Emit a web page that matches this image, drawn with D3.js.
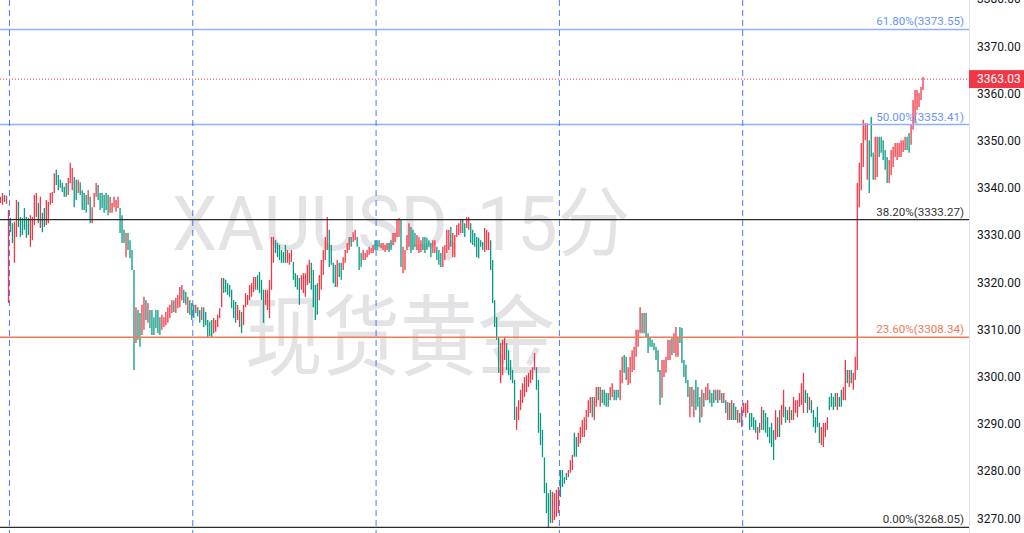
<!DOCTYPE html>
<html><head><meta charset="utf-8">
<script src="https://cdn.jsdelivr.net/npm/d3@7"></script>
<style>html,body{margin:0;padding:0;background:#fff;overflow:hidden}</style>
</head><body><svg id="c" width="1024" height="533"></svg>
<script>
// ---- data (XAUUSD 15m OHLC bars: high / low / direction, r = up (red), g = down (green)) ----
const highs = [
3338.1,3338.9,3338.5,3338.3,3335.3,3333.6,3332.5,3332.8,3337.4,3337.0,
3333.8,3333.6,3335.7,3333.8,3333.6,3334.2,3333.8,3338.5,3338.9,3336.8,
3338.1,3334.7,3335.7,3337.4,3337.0,3338.9,3339.1,3343.1,3343.8,3342.7,
3341.7,3341.0,3340.2,3341.0,3342.1,3345.3,3344.2,3342.3,3341.7,3341.7,
3341.2,3339.5,3338.9,3338.5,3339.5,3338.1,3335.9,3338.9,3341.0,3340.6,
3338.9,3338.9,3338.5,3338.9,3338.5,3338.1,3336.8,3338.1,3337.4,3338.1,
3335.7,3334.2,3331.1,3330.4,3330.4,3328.9,3326.8,3322.6,3314.7,3314.1,
3313.5,3315.2,3316.9,3316.2,3315.6,3314.1,3314.1,3312.6,3314.1,3314.1,
3312.6,3313.1,3312.6,3313.7,3314.7,3315.2,3316.2,3316.2,3316.7,3317.3,
3319.0,3319.4,3318.4,3317.9,3316.9,3316.2,3315.6,3315.2,3315.2,3314.7,
3314.1,3314.7,3314.7,3313.7,3312.0,3311.6,3312.0,3312.4,3312.0,3313.1,
3314.5,3320.9,3320.9,3320.5,3319.8,3319.4,3318.4,3316.2,3315.8,3315.2,
3314.1,3313.7,3315.2,3317.7,3317.3,3319.4,3319.8,3321.1,3321.1,3321.5,
3322.2,3320.5,3318.4,3318.4,3318.4,3320.5,3329.6,3329.6,3328.9,3328.3,
3327.9,3326.8,3326.4,3327.9,3326.8,3326.2,3326.8,3324.3,3321.9,3321.5,
3320.9,3321.5,3321.9,3321.9,3323.7,3324.7,3324.1,3322.6,3319.4,3319.8,
3321.5,3324.7,3326.8,3329.6,3333.8,3331.1,3327.9,3324.1,3323.7,3324.7,
3324.1,3324.1,3325.3,3326.8,3328.3,3329.6,3329.6,3330.6,3331.1,3329.6,
3327.5,3326.2,3326.8,3326.2,3326.8,3327.5,3327.2,3327.9,3328.9,3328.9,
3328.9,3328.3,3328.3,3327.9,3328.3,3328.3,3328.9,3330.4,3330.4,3333.2,
3333.6,3333.2,3327.5,3326.8,3330.0,3332.5,3331.7,3331.1,3330.4,3330.0,
3329.6,3328.9,3329.6,3329.6,3329.4,3328.9,3328.3,3328.9,3328.9,3327.5,
3326.8,3326.2,3327.5,3327.9,3331.1,3331.1,3331.7,3330.4,3330.0,3332.1,
3332.5,3333.2,3333.2,3332.5,3333.8,3333.8,3332.5,3331.1,3330.4,3329.6,
3329.4,3328.9,3328.5,3331.5,3331.1,3330.6,3328.9,3324.7,3316.2,3312.6,
3308.4,3307.1,3307.8,3308.4,3307.1,3305.6,3303.5,3301.4,3299.3,3293.6,
3295.0,3297.2,3298.6,3299.9,3300.3,3300.8,3301.4,3302.0,3305.0,3302.0,
3299.3,3292.3,3288.7,3282.9,3277.5,3275.3,3276.0,3275.6,3275.3,3276.0,
3276.6,3280.2,3280.2,3278.7,3279.6,3280.2,3282.3,3283.4,3288.1,3287.2,
3288.1,3289.3,3290.8,3291.4,3292.9,3295.0,3295.7,3295.7,3295.7,3297.8,
3297.8,3297.8,3297.2,3297.2,3296.5,3296.5,3297.8,3298.6,3297.2,3297.2,
3297.2,3301.4,3304.2,3304.6,3304.2,3302.0,3304.2,3305.6,3306.3,3309.9,
3309.9,3314.7,3313.5,3313.5,3313.5,3309.2,3308.4,3307.8,3307.1,3306.3,
3305.6,3301.4,3303.5,3303.5,3304.2,3307.8,3307.8,3308.2,3309.2,3310.5,
3308.2,3310.5,3310.3,3303.5,3302.5,3299.3,3297.8,3297.8,3297.2,3299.3,
3297.8,3295.7,3297.2,3296.5,3297.8,3298.6,3297.2,3296.5,3297.2,3297.2,
3297.2,3297.2,3296.5,3296.5,3295.0,3294.6,3294.4,3295.0,3294.4,3293.6,
3292.9,3292.3,3293.6,3294.4,3294.4,3295.0,3292.3,3292.3,3291.4,3290.8,
3289.3,3290.2,3293.6,3292.9,3292.3,3291.4,3289.3,3290.2,3288.7,3292.9,
3291.4,3292.9,3294.0,3297.2,3293.6,3292.9,3293.6,3292.9,3295.7,3295.0,
3295.0,3296.5,3298.6,3300.8,3297.2,3296.5,3295.7,3295.0,3292.9,3291.4,
3293.6,3290.2,3289.3,3290.2,3290.2,3291.4,3295.7,3296.5,3295.7,3296.5,
3296.5,3295.7,3297.2,3297.8,3303.5,3301.4,3301.4,3301.4,3300.8,3304.2,
3341.0,3345.3,3349.5,3354.4,3353.7,3353.7,3350.1,3355.0,3347.4,3350.8,
3350.8,3350.8,3350.8,3350.1,3348.0,3346.5,3345.9,3348.0,3348.7,3349.5,
3349.5,3349.5,3350.1,3350.1,3350.8,3350.8,3351.6,3353.3,3358.6,3360.7,
3360.7,3360.1,3361.4,3363.5
];
const lows = [
3336.8,3336.4,3337.0,3336.6,3315.6,3330.6,3328.3,3324.1,3329.6,3331.7,
3329.6,3330.0,3331.1,3329.4,3330.0,3327.5,3328.9,3332.1,3333.8,3332.5,
3331.5,3330.6,3331.7,3332.1,3332.5,3336.4,3336.8,3338.9,3340.6,3339.5,
3340.0,3339.1,3338.1,3338.1,3338.5,3341.0,3339.5,3335.9,3337.4,3338.9,
3338.5,3335.3,3335.3,3334.7,3336.4,3332.5,3332.5,3335.9,3338.1,3337.4,
3335.3,3335.7,3334.7,3335.3,3334.2,3334.7,3334.7,3335.9,3334.9,3335.7,
3330.4,3328.3,3328.3,3325.3,3326.8,3325.1,3322.6,3301.4,3307.1,3307.8,
3306.3,3308.8,3309.9,3312.0,3311.4,3310.3,3308.8,3308.8,3310.3,3309.2,
3308.8,3309.9,3310.5,3310.9,3311.4,3312.4,3313.5,3313.7,3313.5,3314.5,
3314.7,3316.2,3315.6,3315.2,3313.5,3313.1,3312.0,3312.4,3313.5,3312.8,
3311.4,3312.0,3310.5,3310.9,3308.2,3308.6,3308.2,3309.2,3309.5,3310.5,
3312.4,3314.7,3317.7,3317.9,3317.3,3316.9,3314.5,3312.4,3311.4,3312.0,
3310.5,3309.2,3310.9,3314.7,3315.2,3316.2,3316.9,3317.9,3318.4,3318.4,
3317.7,3316.2,3311.4,3315.2,3314.1,3312.4,3318.4,3324.1,3326.2,3325.3,
3324.7,3324.1,3324.1,3324.1,3324.1,3323.7,3324.3,3320.5,3319.0,3318.4,
3315.2,3318.4,3317.7,3316.9,3319.4,3319.8,3318.4,3314.7,3312.0,3313.1,
3316.2,3318.4,3321.5,3324.7,3326.8,3323.2,3323.7,3319.8,3319.0,3319.0,
3321.1,3320.5,3322.6,3324.1,3326.2,3326.8,3327.5,3328.5,3328.9,3327.5,
3322.6,3323.2,3324.7,3324.7,3325.3,3325.8,3326.2,3326.2,3326.8,3326.8,
3327.5,3327.2,3326.8,3326.4,3326.8,3326.4,3326.8,3327.9,3328.5,3329.6,
3329.6,3323.2,3321.9,3322.6,3326.8,3327.5,3326.2,3326.8,3327.5,3326.8,
3326.2,3326.4,3326.8,3326.2,3326.8,3327.5,3325.3,3326.2,3326.2,3324.7,
3323.7,3323.2,3323.2,3324.7,3326.2,3326.8,3327.5,3325.3,3325.3,3329.6,
3330.0,3330.4,3330.4,3329.6,3331.5,3331.1,3328.3,3327.9,3327.5,3325.3,
3325.1,3327.5,3326.8,3326.4,3326.8,3326.8,3322.6,3315.6,3310.5,3307.8,
3300.8,3298.6,3300.3,3303.5,3301.4,3300.3,3299.3,3298.6,3290.8,3288.7,
3290.8,3292.9,3294.4,3295.7,3296.7,3297.8,3298.6,3299.3,3301.4,3297.2,
3288.1,3285.5,3282.9,3275.3,3271.1,3268.1,3269.0,3269.0,3269.6,3270.3,
3271.1,3274.5,3276.6,3277.3,3278.1,3278.7,3279.6,3280.2,3283.0,3283.0,
3285.1,3285.9,3287.2,3287.2,3288.7,3291.4,3292.3,3291.4,3290.8,3293.6,
3295.0,3293.6,3294.4,3294.0,3293.6,3293.6,3295.0,3295.7,3295.0,3295.0,
3295.5,3295.0,3298.6,3300.8,3299.3,3298.2,3298.6,3301.0,3301.4,3304.2,
3306.3,3309.2,3309.2,3309.2,3308.4,3305.0,3306.3,3306.3,3305.6,3303.5,
3301.0,3294.0,3295.5,3299.9,3300.8,3303.5,3303.5,3304.6,3305.0,3304.2,
3304.2,3307.1,3302.9,3299.9,3298.6,3295.7,3291.4,3293.6,3291.4,3292.9,
3293.6,3290.2,3291.4,3293.6,3295.0,3295.0,3294.4,3293.6,3294.4,3295.0,
3294.4,3295.0,3294.4,3294.4,3292.3,3290.8,3290.8,3290.8,3290.8,3290.8,
3290.2,3290.2,3289.3,3292.3,3291.4,3292.3,3288.7,3289.3,3288.7,3288.1,
3286.6,3288.1,3288.7,3288.7,3288.1,3287.2,3285.9,3285.1,3282.3,3286.6,
3287.2,3287.2,3289.8,3291.4,3290.2,3290.8,3290.2,3290.8,3290.8,3292.3,
3291.4,3293.6,3294.0,3292.3,3294.4,3292.3,3292.9,3292.3,3289.3,3288.1,
3289.3,3285.9,3285.5,3285.1,3287.2,3288.7,3292.9,3293.6,3292.9,3293.6,
3292.9,3293.6,3293.6,3295.0,3295.0,3298.6,3297.8,3298.6,3297.2,3299.3,
3301.4,3335.9,3339.5,3344.4,3350.1,3341.7,3338.9,3346.5,3341.7,3341.7,
3342.3,3346.5,3347.4,3345.9,3343.8,3341.0,3341.0,3342.7,3344.4,3346.5,
3345.9,3346.5,3346.5,3347.6,3348.0,3348.0,3347.4,3349.1,3352.3,3353.7,
3356.5,3357.1,3358.6,3360.7
];
const barDirs = (
"rrgrrggrrg"+"gggggrrrrg"+"rggrrrrrgg"+"ggggrrrggr"+"ggggrgrrrg"+
"gggggrrrrr"+"gggrggggrg"+"grrgrggggg"+"grrrrrrgrr"+"rrggrgggrg"+
"grgggggrrr"+"rrgggggggr"+"rgrrrrrrrg"+"gggrrrrrgg"+"ggggrrrggg"+
"grrrrrgggg"+"rrrrrggggr"+"ggrrrrgrrg"+"ggrrrrrrgg"+"grrrrggrrr"+
"rgrrrrgggr"+"rrgggggrrg"+"ggrrrrgrrr"+"rrggrrgggg"+"gggrrrgggg"+
"grrrgggggr"+"rrrrrrrrrg"+"gggggggrrr"+"rggggrrrgg"+"rrrrrrrgrr"+
"grggggrrgg"+"grrggrrrrr"+"rrgrgggggg"+"ggrrrrrgrr"+"rgggggrgrg"+
"ggrgrrgggr"+"grgrgrgrgg"+"rgrrrrgggg"+"rgrggggggr"+"rgrrggrgrr"+
"rrrrggrggg"+"ggrrrrgggg"+"rggrrgrgrr"+"rrrrrrgggr"+"rgggggrrrr"+
"rrrrrggrrr"+"rrrr").split("");
const lastPrice = 3363.03;
const sessionStarts = [5, 97, 189, 281, 373];
const fibNames  = ["0.00%", "23.60%", "38.20%", "50.00%", "61.80%"];
const fibPrices = [3268.05, 3308.34, 3333.27, 3353.41, 3373.55];
const fibColors = ["#2b2b2b", "#f47a55", "#2b2b2b", "#8fb0ff", "#8fb0ff"];
const fibTextColors = ["#333333", "#f07a56", "#333333", "#6a93f2", "#6a93f2"];
const priceTicks = [3270,3280,3290,3300,3310,3320,3330,3340,3350,3360,3370,3380];
const watermarkLines = ["XAUUSD, 15分", "现货黄金"];

// ---- layout ----
const W = 1024, H = 533, plotRight = 969;
const barStep = 1.9925;
const N = highs.length;
const svg = d3.select("#c");
const x = d3.scaleLinear().domain([0, N - 1]).range([0.5, 0.5 + (N - 1) * barStep]);
const y = d3.scaleLinear().domain([3266.864, 3379.788]).range([H, 0]);
const UP = "#f23645", DOWN = "#089981";

svg.append("rect").attr("width", W).attr("height", H).attr("fill", "#fff");

// watermark
const wm = svg.append("g").attr("fill", "#e3e3e6")
  .style("font-family", "Roboto, 'Noto Sans CJK SC', sans-serif");
wm.append("text").attr("x", 401).attr("y", 250).attr("text-anchor", "middle")
  .attr("font-size", 76).attr("textLength", 458).attr("lengthAdjust", "spacingAndGlyphs")
  .text(watermarkLines[0]);
wm.append("text").attr("x", 400).attr("y", 368).attr("text-anchor", "middle")
  .style("font-family", "'Noto Sans CJK SC', sans-serif")
  .attr("font-size", 88).attr("textLength", 310).attr("lengthAdjust", "spacingAndGlyphs")
  .text(watermarkLines[1]);

// bars
const bars = d3.range(N);
svg.append("g").selectAll("line").data(bars).join("line")
  .attr("x1", i => x(i)).attr("x2", i => x(i))
  .attr("y1", i => y(highs[i]))
  .attr("y2", i => Math.max(y(lows[i]), y(highs[i]) + 1))
  .attr("stroke", i => barDirs[i] === "r" ? UP : DOWN)
  .attr("stroke-width", 1.3);

// fib levels
const fg = svg.append("g");
fibPrices.forEach((p, k) => {
  fg.append("line").attr("x1", 0).attr("x2", plotRight)
    .attr("y1", y(p)).attr("y2", y(p))
    .attr("stroke", fibColors[k]).attr("stroke-width", k >= 3 ? 1.5 : 1.3);
  fg.append("text").attr("x", 964).attr("y", y(p) - 4)
    .attr("text-anchor", "end").attr("fill", fibTextColors[k])
    .style("font-family", "Roboto, sans-serif").attr("font-size", 11.6)
    .text(`${fibNames[k]}(${p.toFixed(2)})`);
});

// session breaks
svg.append("g").selectAll("line").data(sessionStarts).join("line")
  .attr("x1", i => x(i) - barStep / 2).attr("x2", i => x(i) - barStep / 2)
  .attr("y1", 0).attr("y2", H)
  .attr("stroke", "#2962ff").attr("stroke-opacity", 0.85)
  .attr("stroke-width", 1).attr("stroke-dasharray", "6,4");

// last price line
svg.append("line").attr("x1", 0).attr("x2", plotRight)
  .attr("y1", y(lastPrice)).attr("y2", y(lastPrice))
  .attr("stroke", UP).attr("stroke-width", 1).attr("stroke-dasharray", "1,2");

// price axis
svg.append("rect").attr("x", plotRight).attr("y", 0).attr("width", W - plotRight).attr("height", H).attr("fill", "#fff");
const axis = svg.append("g").attr("transform", `translate(${plotRight},0)`)
  .call(d3.axisRight(y).tickValues(priceTicks).tickFormat(d3.format(".2f")).tickSize(0).tickPadding(8));
axis.select(".domain").attr("stroke", "#e0e3eb");
axis.selectAll("text").attr("fill", "#131722").style("font-family", "Roboto, sans-serif").attr("font-size", 12);

// last price label
svg.append("rect").attr("x", plotRight).attr("y", y(lastPrice) - 9)
  .attr("width", W - plotRight).attr("height", 18).attr("fill", UP);
svg.append("text").attr("x", plotRight + 8).attr("y", y(lastPrice))
  .attr("dy", "0.35em").attr("fill", "#fff").style("font-family", "Roboto, sans-serif")
  .attr("font-size", 12).text(lastPrice.toFixed(2));
</script></body></html>
